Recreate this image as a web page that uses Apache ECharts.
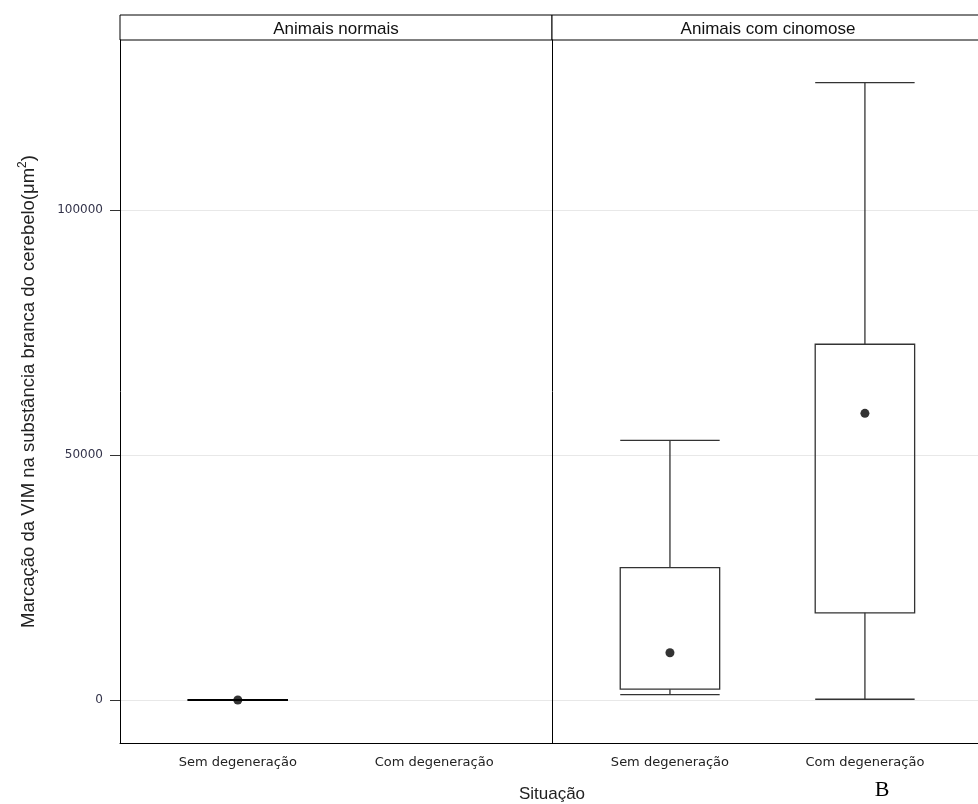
<!DOCTYPE html>
<html>
<head>
<meta charset="utf-8">
<script src="https://cdn.jsdelivr.net/npm/echarts@6/dist/echarts.min.js"></script>
<style>
  html, body { margin: 0; background: #fff; }
  #main { width: 978px; height: 804px; }
</style>
</head>
<body>
<div id="main"></div>
<script>
// facetas e categorias
const panels = ['Animais normais', 'Animais com cinomose'];
const situacao = ['Sem degeneração', 'Com degeneração'];
const yTicks = [0, 50000, 100000];
// [posição, bigode inferior, Q1, Q3, bigode superior]
const normaisBox = [[1, 0, 0, 0, 0]];
const cinomoseBox = [[1, 1100, 2200, 27000, 53000], [2, 150, 17800, 72600, 126000]];
// médias
const normaisMean = [[1, 0]];
const cinomoseMean = [[1, 9650], [2, 58500]];

const yMin = -8776, yMax = 134694;
// painel da direita está cortado na borda da imagem
const xRange = [[0.4, 2.6], [0.395, 2.58]];
const chart = echarts.init(document.getElementById('main'));

function renderBox(params, api) {
  const x = api.value(0);
  const w = api.size([0.51, 0])[0];
  const lo = api.coord([x, api.value(1)]);
  const q1 = api.coord([x, api.value(2)]);
  const q3 = api.coord([x, api.value(3)]);
  const hi = api.coord([x, api.value(4)]);
  const cx = lo[0];
  // caixa achatada (tudo em zero) fica com traço mais grosso
  const flat = Math.abs(hi[1] - lo[1]) < 1;
  const style = { stroke: flat ? '#000' : '#333', lineWidth: flat ? 2.2 : 1.3, fill: 'none' };
  return {
    type: 'group',
    children: [
      { type: 'line', shape: { x1: cx, y1: hi[1], x2: cx, y2: q3[1] }, style: style },
      { type: 'line', shape: { x1: cx, y1: q1[1], x2: cx, y2: lo[1] }, style: style },
      { type: 'line', shape: { x1: cx - w / 2, y1: hi[1], x2: cx + w / 2, y2: hi[1] }, style: style },
      { type: 'line', shape: { x1: cx - w / 2, y1: lo[1], x2: cx + w / 2, y2: lo[1] }, style: style },
      { type: 'rect', shape: { x: cx - w / 2, y: q3[1], width: w, height: q1[1] - q3[1] }, style: style }
    ]
  };
}

function xAxisOf(idx) {
  return {
    type: 'value', gridIndex: idx, min: xRange[idx][0], max: xRange[idx][1],
    axisLine: { show: true, onZero: false, lineStyle: { color: '#000', width: 1 } },
    axisTick: { show: false },
    splitLine: { show: false },
    axisLabel: {
      customValues: [1, 2],
      formatter: v => situacao[Math.round(v) - 1],
      color: '#222', fontSize: 13, fontFamily: 'DejaVu Sans', margin: 13
    }
  };
}

function yAxisOf(idx) {
  return {
    type: 'value', gridIndex: idx, min: yMin, max: yMax,
    axisLine: { show: true, lineStyle: { color: '#000', width: 1 } },
    axisTick: { show: idx === 0, customValues: yTicks, length: 10, lineStyle: { color: '#333' } },
    splitLine: { show: true, lineStyle: { color: '#e8e8e8', width: 1 } },
    axisLabel: {
      show: idx === 0, customValues: yTicks,
      formatter: v => String(v),
      color: '#33334a', fontSize: 12, fontFamily: 'DejaVu Sans', margin: 17
    },
    name: idx === 0 ? 'Marcação da VIM na substância branca do cerebelo(μm{s|2})' : '',
    nameLocation: 'middle', nameGap: 80, nameRotate: 90,
    nameTextStyle: {
      color: '#222', fontSize: 18.5, fontFamily: 'Liberation Sans',
      rich: { s: { fontSize: 12, verticalAlign: 'top', padding: [0, 0, 11, 0] } }
    }
  };
}

chart.setOption({
  animation: false,
  backgroundColor: '#fff',
  grid: [
    { left: 120, top: 40, width: 432, height: 703 },
    { left: 552, top: 40, right: 0, height: 703 }
  ],
  xAxis: [xAxisOf(0), xAxisOf(1)],
  yAxis: [yAxisOf(0), yAxisOf(1)],
  series: [
    { type: 'custom', xAxisIndex: 0, yAxisIndex: 0, renderItem: renderBox, data: normaisBox, encode: { x: 0, y: [1, 2, 3, 4] }, z: 3 },
    { type: 'custom', xAxisIndex: 1, yAxisIndex: 1, renderItem: renderBox, data: cinomoseBox, encode: { x: 0, y: [1, 2, 3, 4] }, z: 3 },
    { type: 'scatter', xAxisIndex: 0, yAxisIndex: 0, data: normaisMean, symbolSize: 9, itemStyle: { color: '#000' }, z: 5 },
    { type: 'scatter', xAxisIndex: 1, yAxisIndex: 1, data: cinomoseMean, symbolSize: 9, itemStyle: { color: '#000' }, z: 5 }
  ],
  graphic: [
    { type: 'rect', shape: { x: 120, y: 15, width: 432, height: 25 }, style: { fill: '#fff', stroke: '#000', lineWidth: 1 } },
    { type: 'rect', shape: { x: 552, y: 15, width: 433, height: 25 }, style: { fill: '#fff', stroke: '#000', lineWidth: 1 } },
    { type: 'text', x: 336, y: 29, style: { text: panels[0], fill: '#111', font: '17px "Liberation Sans"', textAlign: 'center', textVerticalAlign: 'middle' } },
    { type: 'text', x: 768, y: 29, style: { text: panels[1], fill: '#111', font: '17px "Liberation Sans"', textAlign: 'center', textVerticalAlign: 'middle' } },
    { type: 'text', x: 552, y: 794, style: { text: 'Situação', fill: '#222', font: '17px "Liberation Sans"', textAlign: 'center', textVerticalAlign: 'middle' } },
    { type: 'text', x: 882, y: 790, style: { text: 'B', fill: '#000', font: '22px "Liberation Serif"', textAlign: 'center', textVerticalAlign: 'middle' } }
  ]
});
</script>
</body>
</html>
